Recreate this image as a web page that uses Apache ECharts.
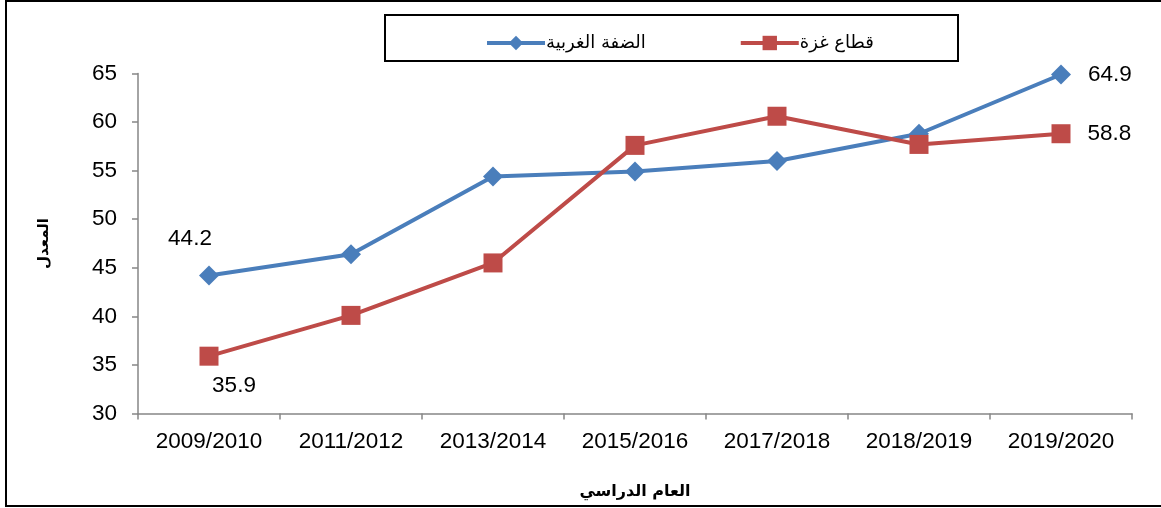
<!DOCTYPE html>
<html><head><meta charset="utf-8">
<script src="https://cdn.jsdelivr.net/npm/echarts@6/dist/echarts.min.js"></script>
<style>html,body{margin:0;padding:0;background:#fff}#c{width:1161px;height:508px}</style>
</head><body><div id="c"></div>
<script>
const categories = ['2009/2010','2011/2012','2013/2014','2015/2016','2017/2018','2018/2019','2019/2020'];
const westBank = [44.2, 46.4, 54.4, 54.9, 56.0, 58.8, 64.9];
const gaza = [35.9, 40.1, 45.5, 57.6, 60.6, 57.7, 58.8];
const seriesNames = ['الضفة الغربية', 'قطاع غزة'];
const yTicks = { min: 30, max: 65, interval: 5 };

const FONT = 'Liberation Sans, Arial, sans-serif';
const AR_FONT = 'DejaVu Sans, Noto Sans, sans-serif';
const chart = echarts.init(document.getElementById('c'));

function labelled(values, labelCfg) {
  return values.map((v, i) => labelCfg[i] ? { value: v, label: Object.assign({ show: true, color: '#000', fontSize: 22.5, fontFamily: FONT, formatter: '{c}' }, labelCfg[i]) } : v);
}

const wbLabels = { 0: { position: 'top', offset: [-19, -10] }, 6: { position: 'right', distance: 17 } };
const gzLabels = { 0: { position: 'bottom', offset: [25, 4] }, 6: { position: 'right', distance: 17 } };

chart.setOption({
  animation: false,
  backgroundColor: '#fff',
  graphic: [
    { type: 'rect', shape: { x: 6, y: 1, width: 1170, height: 505 }, style: { fill: 'none', stroke: '#000', lineWidth: 2 }, z: 100 },
    { type: 'rect', shape: { x: 385, y: 15, width: 573, height: 46 }, style: { fill: 'none', stroke: '#000', lineWidth: 2 }, z: 100 }
  ],
  legend: {
    data: seriesNames,
    top: 29,
    left: 480,
    itemGap: 93,
    itemWidth: 58,
    itemHeight: 18,
    lineStyle: { width: 4 },
    textStyle: { fontSize: 18, color: '#000', fontFamily: AR_FONT, padding: [0, 0, 0, -4] }
  },
  grid: { left: 138, right: 29, top: 73.5, bottom: 94.5 },
  xAxis: {
    type: 'category',
    data: categories,
    boundaryGap: true,
    name: 'العام الدراسي',
    nameLocation: 'middle',
    nameGap: 70,
    nameTextStyle: { fontSize: 16, fontWeight: 'bold', color: '#000', fontFamily: AR_FONT },
    axisLine: { lineStyle: { color: '#868686', width: 1.5 } },
    axisTick: { show: true, alignWithLabel: false, length: 6, lineStyle: { color: '#868686', width: 1.5 } },
    axisLabel: { fontSize: 22.5, color: '#000', fontFamily: FONT, margin: 17 }
  },
  yAxis: {
    type: 'value',
    min: yTicks.min, max: yTicks.max, interval: yTicks.interval,
    name: 'المعدل',
    nameLocation: 'middle',
    nameGap: 86,
    nameTextStyle: { fontSize: 15, fontWeight: 'bold', color: '#000', fontFamily: AR_FONT },
    axisLine: { show: true, lineStyle: { color: '#868686', width: 1.5 } },
    axisTick: { show: true, length: 6, lineStyle: { color: '#868686', width: 1.5 } },
    splitLine: { show: false },
    axisLabel: { fontSize: 22.5, color: '#000', fontFamily: FONT, margin: 21 }
  },
  series: [
    {
      name: seriesNames[0], type: 'line', data: labelled(westBank, wbLabels),
      symbol: 'diamond', symbolSize: 20,
      lineStyle: { color: '#4a7ebb', width: 4 },
      itemStyle: { color: '#4a7ebb' }, z: 3
    },
    {
      name: seriesNames[1], type: 'line', data: labelled(gaza, gzLabels),
      symbol: 'rect', symbolSize: 19,
      lineStyle: { color: '#be4b48', width: 4 },
      itemStyle: { color: '#be4b48' }, z: 4
    }
  ]
});
</script></body></html>
